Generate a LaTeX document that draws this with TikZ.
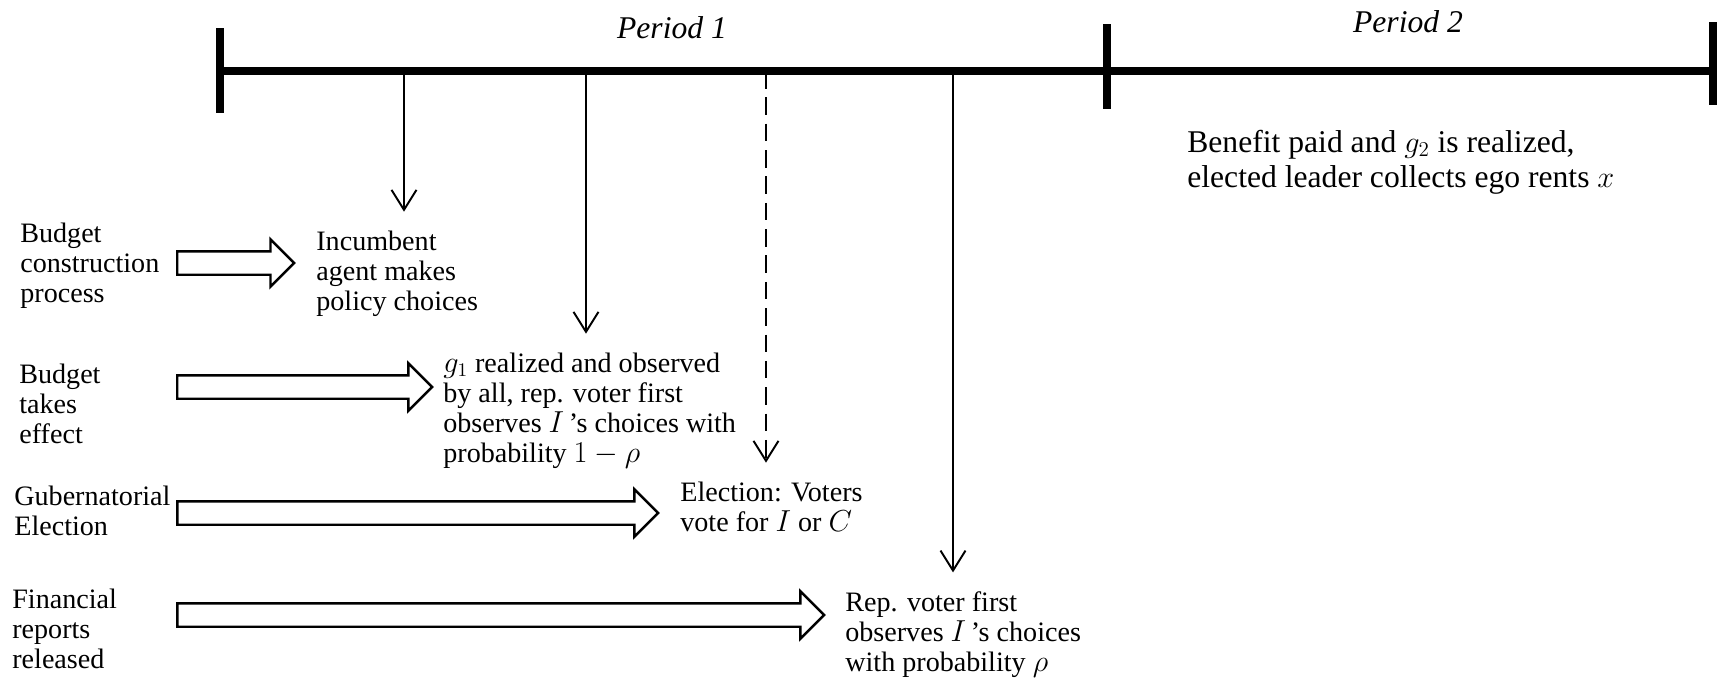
\documentclass[tikz,border=0pt]{standalone}
\usepackage{fontspec}
\setmainfont{Liberation Serif}
\usetikzlibrary{arrows.meta,shapes.arrows}

\begin{document}
\begin{tikzpicture}[x=0.02cm,y=-0.02cm,font=\fontsize{16}{17.07}\selectfont,
  lbl/.style={anchor=base west,align=left,inner sep=0pt},
  per/.style={anchor=base,inner sep=0pt,font=\fontsize{18}{20}\selectfont\itshape},
  bar/.style={line width=4.5pt},
  drop/.style={line width=1.1pt,-{Straight Barb[length=0.4cm,width=0.5cm]},shorten >=0.37cm},
  fat/.style={draw,line width=1.4pt,single arrow,single arrow head extend=0.24cm,
    text height=0.42cm,text depth=0pt,inner sep=0pt,anchor=west}]
\useasboundingbox (0,0) rectangle (1718,681);

\draw[bar] (220,71) -- (1713,71);
\draw[bar] (220,28) -- (220,113);
\draw[bar] (1107,24) -- (1107,109);
\draw[bar] (1713,22) -- (1713,105);
\node[per] (p1) at (672,38) {Period 1};
\node[per] (p2) at (1408,32) {Period 2};

\node[lbl] (bcp) at (20,302) {Budget\\construction\\process};
\node[lbl] (bte) at (19,443) {Budget\\takes\\effect};
\node[lbl] (gub) at (14,535) {Gubernatorial\\Election};
\node[lbl] (fin) at (12,668) {Financial\\reports\\released};

\node[lbl] (inc) at (316,310) {Incumbent\\agent makes\\policy choices};
\node[lbl] (gob) at (443,462) {$g_1$ realized and observed\\by all, rep. voter first\\observes $I$\,'s choices with\\probability $1-\rho$};
\node[lbl] (elec) at (680,531) {Election: Voters\\vote for $I$ or $C$};
\node[lbl] (rep) at (845,671) {Rep. voter first\\observes $I$\,'s choices\\with probability $\rho$};
\node[lbl,font=\fontsize{18}{19.9}\selectfont] (ben) at (1187,187) {Benefit paid and $g_2$ is realized,\\elected leader collects ego rents $x$};

\node[fat,minimum height=2.34cm] (a1) at (176,263) {};
\node[fat,minimum height=5.1cm] (a2) at (176,387) {};
\node[fat,minimum height=9.62cm] (a3) at (176,513) {};
\node[fat,minimum height=12.94cm] (a4) at (176,615) {};

\coordinate (e1) at (404,71);
\coordinate (e2) at (586,71);
\coordinate (e3) at (766,71);
\coordinate (e4) at (953,71);
\draw[drop] (e1) -- (e1 |- inc.north);
\draw[drop] (e2) -- (e2 |- gob.north);
\draw[drop,dash pattern=on 10pt off 5pt] (e3) -- (e3 |- elec.north);
\draw[drop] (e4) -- (e4 |- rep.north);
\end{tikzpicture}
\end{document}
